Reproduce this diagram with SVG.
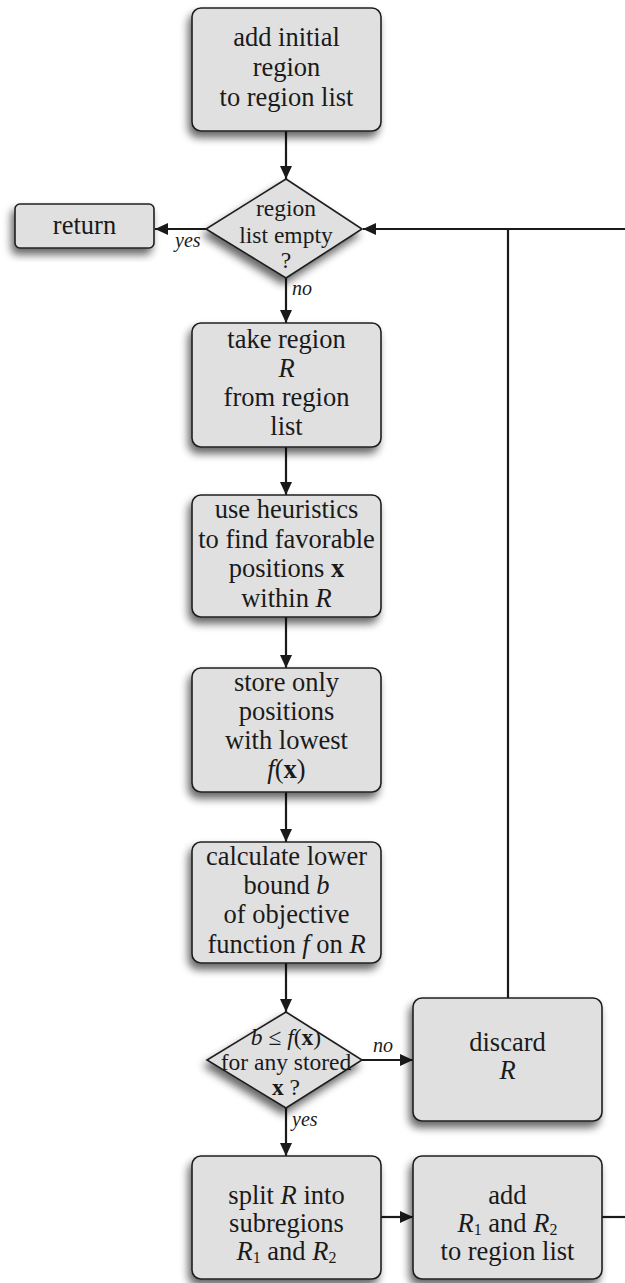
<svg xmlns="http://www.w3.org/2000/svg" width="625" height="1283" viewBox="0 0 625 1283" font-family="Liberation Serif, DejaVu Serif, Times New Roman, serif">
  <defs>
    <filter id="shadow" x="-20%" y="-20%" width="140%" height="150%">
      <feGaussianBlur in="SourceAlpha" stdDeviation="4"/>
      <feOffset dx="-3" dy="6" result="blur"/>
      <feComponentTransfer><feFuncA type="linear" slope="0.6"/></feComponentTransfer>
      <feMerge><feMergeNode/><feMergeNode in="SourceGraphic"/></feMerge>
    </filter>
    <marker id="arrow" viewBox="0 0 13 12" refX="13" refY="6" markerWidth="13" markerHeight="12" markerUnits="userSpaceOnUse" orient="auto">
      <path d="M0,0 L13,6 L0,12 Z" fill="#1a1a1a"/>
    </marker>
    <style>
      .box { fill: #e0e0e0; stroke: #1f1f1f; stroke-width: 1.6; filter: url(#shadow); }
      text { font-family: 'Liberation Serif', 'DejaVu Serif', 'Times New Roman', serif; }
      .t { font-size: 26.5px; fill: #1a1a1a; text-anchor: middle; }
      .d { font-size: 23.5px; fill: #1a1a1a; text-anchor: middle; }
      .lbl { font-size: 20px; font-style: italic; fill: #1a1a1a; }
      .i { font-style: italic; }
      .b { font-weight: bold; }
      .sub { font-size: 16px; }
      .edge { fill: none; stroke: #1a1a1a; stroke-width: 2.2; }
    </style>
  </defs>

  <!-- connectors -->
  <g id="connectors">
    <line class="edge" x1="286" y1="131" x2="286" y2="179" marker-end="url(#arrow)"/>
    <line class="edge" x1="206" y1="229" x2="155" y2="229" marker-end="url(#arrow)"/>
    <line class="edge" x1="286" y1="278" x2="286" y2="323" marker-end="url(#arrow)"/>
    <line class="edge" x1="286" y1="447" x2="286" y2="495" marker-end="url(#arrow)"/>
    <line class="edge" x1="286" y1="617" x2="286" y2="668" marker-end="url(#arrow)"/>
    <line class="edge" x1="286" y1="792" x2="286" y2="842" marker-end="url(#arrow)"/>
    <line class="edge" x1="286" y1="963" x2="286" y2="1012" marker-end="url(#arrow)"/>
    <line class="edge" x1="362" y1="1060" x2="413" y2="1060" marker-end="url(#arrow)"/>
    <line class="edge" x1="286" y1="1108" x2="286" y2="1156" marker-end="url(#arrow)"/>
    <line class="edge" x1="381" y1="1217" x2="413" y2="1217" marker-end="url(#arrow)"/>
    <line class="edge" x1="602" y1="1217" x2="626" y2="1217"/>
    <line class="edge" x1="626" y1="229" x2="363" y2="229" marker-end="url(#arrow)"/>
    <line class="edge" x1="508" y1="998" x2="508" y2="229"/>
    <text class="lbl" x="175" y="247">yes</text>
    <text class="lbl" x="292" y="295">no</text>
    <text class="lbl" x="373" y="1052">no</text>
    <text class="lbl" x="292" y="1126">yes</text>
  </g>

  <g id="add-initial">
    <rect class="box" x="192" y="8" width="189" height="123" rx="9"/>
    <text class="t" x="286.5" y="46">add initial</text>
    <text class="t" x="286.5" y="76">region</text>
    <text class="t" x="286.5" y="106">to region list</text>
  </g>

  <g id="list-empty">
    <polygon class="box" points="286,179 362,229 286,278 206,229"/>
    <text class="d" x="286" y="216">region</text>
    <text class="d" x="286" y="243">list empty</text>
    <text class="d" x="286" y="268">?</text>
  </g>

  <g id="return">
    <rect class="box" x="15" y="204" width="139" height="44" rx="5"/>
    <text class="t" x="84.5" y="234">return</text>
  </g>

  <g id="take-region">
    <rect class="box" x="192" y="323" width="189" height="124" rx="9"/>
    <text class="t" x="286.5" y="348">take region</text>
    <text class="t i" x="286.5" y="377">R</text>
    <text class="t" x="286.5" y="406">from region</text>
    <text class="t" x="286.5" y="435">list</text>
  </g>

  <g id="heuristics">
    <rect class="box" x="192" y="495" width="189" height="122" rx="9"/>
    <text class="t" x="286.5" y="518">use heuristics</text>
    <text class="t" x="286.5" y="548">to find favorable</text>
    <text class="t" x="286.5" y="577">positions <tspan class="b">x</tspan></text>
    <text class="t" x="286.5" y="607">within <tspan class="i">R</tspan></text>
  </g>

  <g id="store">
    <rect class="box" x="192" y="668" width="189" height="124" rx="9"/>
    <text class="t" x="286.5" y="691">store only</text>
    <text class="t" x="286.5" y="720">positions</text>
    <text class="t" x="286.5" y="749">with lowest</text>
    <text class="t" x="286.5" y="778"><tspan class="i">f</tspan>(<tspan class="b">x</tspan>)</text>
  </g>

  <g id="lower-bound">
    <rect class="box" x="192" y="842" width="189" height="121" rx="9"/>
    <text class="t" x="286.5" y="865">calculate lower</text>
    <text class="t" x="286.5" y="894">bound <tspan class="i">b</tspan></text>
    <text class="t" x="286.5" y="923">of objective</text>
    <text class="t" x="286.5" y="953">function <tspan class="i">f</tspan> on <tspan class="i">R</tspan></text>
  </g>

  <g id="bound-test">
    <polygon class="box" points="286,1012 362,1060 286,1108 207,1060"/>
    <text class="d" x="286" y="1045"><tspan class="i">b</tspan> ≤ <tspan class="i">f</tspan>(<tspan class="b">x</tspan>)</text>
    <text class="d" x="286" y="1070">for any stored</text>
    <text class="d" x="286" y="1095"><tspan class="b">x</tspan> ?</text>
  </g>

  <g id="discard">
    <rect class="box" x="413" y="998" width="189" height="123" rx="9"/>
    <text class="t" x="507.5" y="1051">discard</text>
    <text class="t i" x="507.5" y="1079">R</text>
  </g>

  <g id="split">
    <rect class="box" x="192" y="1156" width="189" height="123" rx="9"/>
    <text class="t" x="286.5" y="1204">split <tspan class="i">R</tspan> into</text>
    <text class="t" x="286.5" y="1232">subregions</text>
    <text class="t" x="286.5" y="1260"><tspan class="i">R</tspan><tspan class="sub" dy="3">1</tspan><tspan dy="-3"> and </tspan><tspan class="i">R</tspan><tspan class="sub" dy="3">2</tspan></text>
  </g>

  <g id="add-subregions">
    <rect class="box" x="413" y="1156" width="189" height="123" rx="9"/>
    <text class="t" x="507.5" y="1204">add</text>
    <text class="t" x="507.5" y="1232"><tspan class="i">R</tspan><tspan class="sub" dy="3">1</tspan><tspan dy="-3"> and </tspan><tspan class="i">R</tspan><tspan class="sub" dy="3">2</tspan></text>
    <text class="t" x="507.5" y="1260">to region list</text>
  </g>
</svg>
